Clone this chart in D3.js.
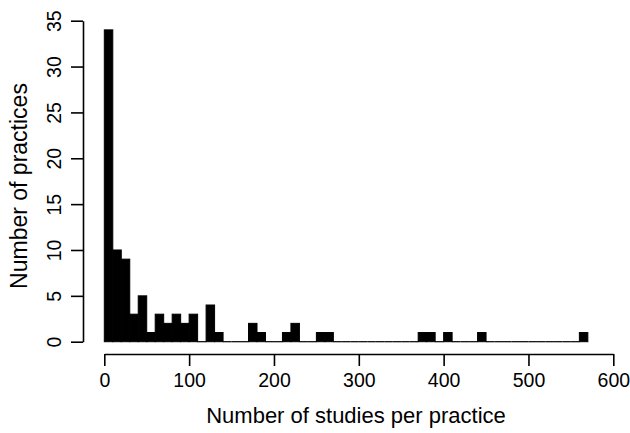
<!DOCTYPE html>
<html>
<head>
<meta charset="utf-8">
<script src="https://cdn.jsdelivr.net/npm/d3@7"></script>
<style>
  body { margin: 0; background: #fff; }
  svg { display: block; }
  text { font-family: "Liberation Sans", Arial, sans-serif; fill: #000; }
</style>
</head>
<body>
<div id="chart"></div>
<script>
// Histogram data: bins of width 10, count per bin
const binWidth = 10;
const binStarts = d3.range(0, 570, 10);
const counts = [
  34, 10, 9, 3, 5, 1, 3, 2, 3, 2,
  3, 0, 4, 1, 0, 0, 0, 2, 1, 0,
  0, 1, 2, 0, 0, 1, 1, 0, 0, 0,
  0, 0, 0, 0, 0, 0, 0, 1, 1, 0,
  1, 0, 0, 0, 1, 0, 0, 0, 0, 0,
  0, 0, 0, 0, 0, 0, 1
];
const xTicks = [0, 100, 200, 300, 400, 500, 600];
const yTicks = [0, 5, 10, 15, 20, 25, 30, 35];
const xTitle = "Number of studies per practice";
const yTitle = "Number of practices";

let width = 630;
let height = 433;

let svg = d3.select('#chart').append('svg')
    .attr('width', width)
    .attr('height', height);

// Scales
let xScale = d3.scaleLinear()
    .domain([0, 600])
    .range([104.3, 613.3]);

let yScale = d3.scaleLinear()
    .domain([0, 35])
    .range([341.7, 20.7]);

let bins = binStarts.map((s, i) => ({x0: s, x1: s + binWidth, n: counts[i]}));

// Bars
svg.append('g')
    .selectAll('rect')
    .data(bins.filter(d => d.n > 0)).enter()
    .append('rect')
    .attr('x', d => xScale(d.x0))
    .attr('y', d => yScale(d.n))
    .attr('width', d => xScale(d.x1) - xScale(d.x0))
    .attr('height', d => yScale(0) - yScale(d.n))
    .attr('fill', '#000')
    .attr('stroke', '#000')
    .attr('stroke-width', 1);

// empty bins still draw their (flat) outline along the baseline
svg.append('g')
    .selectAll('line')
    .data(bins.filter(d => d.n == 0)).enter()
    .append('line')
    .attr('x1', d => xScale(d.x0))
    .attr('x2', d => xScale(d.x1))
    .attr('y1', yScale(0))
    .attr('y2', yScale(0))
    .attr('stroke', '#000')
    .attr('stroke-width', 1.2);

// Axes
let xAxis = d3.axisBottom(xScale)
    .tickValues(xTicks)
    .tickSize(12)
    .tickSizeOuter(0)
    .tickPadding(7);

let yAxis = d3.axisLeft(yScale)
    .tickValues(yTicks)
    .tickSize(12)
    .tickSizeOuter(0);

let gx = svg.append('g')
    .attr('transform', 'translate(0, 354)')
    .call(xAxis);

gx.selectAll('text')
    .style('font-size', '19.5px');

let gy = svg.append('g')
    .attr('transform', 'translate(83, 0)')
    .call(yAxis);

gy.selectAll('text')
    .attr('x', 0)
    .attr('y', -22)
    .attr('dy', 0)
    .attr('transform', 'rotate(-90)')
    .attr('text-anchor', 'middle')
    .style('font-size', '19.5px');

svg.selectAll('.domain, .tick line')
    .attr('stroke', '#000')
    .attr('stroke-width', 1.6);

// Axis titles
svg.append('text')
    .attr('x', 356)
    .attr('y', 423)
    .attr('text-anchor', 'middle')
    .style('font-size', '22px')
    .text(xTitle);

svg.append('text')
    .attr('transform', 'translate(27, 186) rotate(-90)')
    .attr('text-anchor', 'middle')
    .style('font-size', '23px')
    .text(yTitle);
</script>
</body>
</html>
